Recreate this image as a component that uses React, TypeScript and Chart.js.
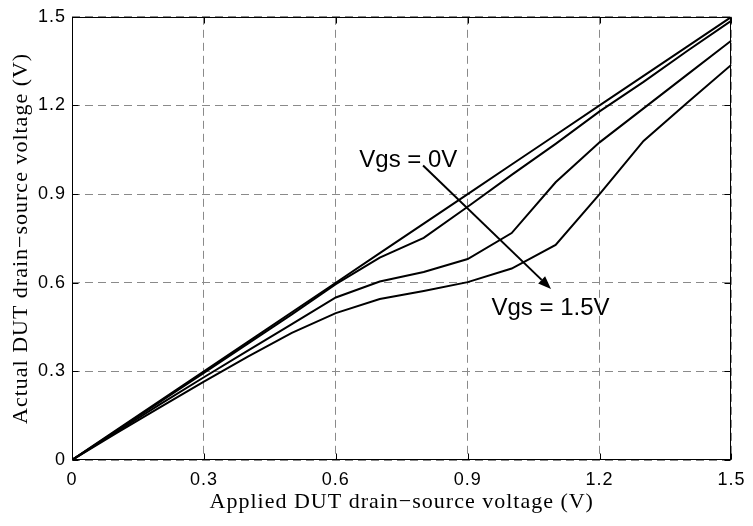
import React, { useEffect, useRef } from 'react';
import { Chart, registerables } from 'chart.js';

Chart.register(...registerables);

// Applied DUT drain-source voltage (V)
const appliedVoltage = [0, 0.1, 0.2, 0.3, 0.4, 0.5, 0.6, 0.7, 0.8, 0.9, 1.0, 1.1, 1.2, 1.3, 1.4, 1.5];

// Actual DUT drain-source voltage (V), one series per gate-source voltage
const vgs0V = [0, 0.1, 0.2, 0.3, 0.4, 0.5, 0.6, 0.7, 0.8, 0.9, 1.0, 1.1, 1.2, 1.3, 1.4, 1.5];
const vgs05V = [0, 0.098, 0.197, 0.295, 0.394, 0.493, 0.595, 0.685, 0.752, 0.857, 0.965, 1.07, 1.18, 1.28, 1.385, 1.487];
const vgs10V = [0, 0.094, 0.188, 0.28, 0.37, 0.46, 0.55, 0.604, 0.636, 0.68, 0.768, 0.94, 1.075, 1.19, 1.305, 1.42];
const vgs15V = [0, 0.09, 0.178, 0.265, 0.35, 0.43, 0.497, 0.545, 0.572, 0.602, 0.648, 0.728, 0.9, 1.08, 1.21, 1.338];

const seriesNames = ['Vgs = 0V', 'Vgs = 0.5V', 'Vgs = 1.0V', 'Vgs = 1.5V'];
const seriesValues = [vgs0V, vgs05V, vgs10V, vgs15V];

const tickValues = [0, 0.3, 0.6, 0.9, 1.2, 1.5];
const tickLabels = ['0', '0.3', '0.6', '0.9', '1.2', '1.5'];

const xTitle = 'Applied DUT drain\u2212source voltage (V)';
const yTitle = 'Actual DUT drain\u2212source voltage (V)';

// annotation anchors in data coordinates
const topLabel = { text: 'Vgs = 0V', x: 0.6535, y: 0.991 };
const bottomLabel = { text: 'Vgs = 1.5V', x: 0.954, y: 0.49 };
const arrowStart = { x: 0.7985, y: 0.9966 };
const arrowEnd = { x: 1.0895, y: 0.579 };

const spacingPlugin = {
  id: 'spacing',
  beforeDraw(chart: any) {
    try {
      (chart.ctx as any).letterSpacing = '1px';
    } catch (e) {
      /* ignore */
    }
  },
};

const overlayPlugin = {
  id: 'overlay',
  afterDatasetsDraw(chart: any) {
    const { ctx, chartArea: a, scales } = chart;
    const xs = scales.x;
    const ys = scales.y;
    ctx.save();
    // box
    ctx.strokeStyle = '#000';
    ctx.lineWidth = 1;
    ctx.setLineDash([]);
    const L = Math.round(a.left) + 0.5;
    const R = Math.round(a.right) - 0.5;
    const T = Math.round(a.top) + 0.5;
    const B = Math.round(a.bottom) - 0.5;
    ctx.strokeRect(L, T, R - L, B - T);
    // inward tick marks on all sides
    ctx.beginPath();
    tickValues.forEach((v) => {
      const px = Math.round(xs.getPixelForValue(v)) + 0.5;
      ctx.moveTo(px, B);
      ctx.lineTo(px, B - 6);
      ctx.moveTo(px, T);
      ctx.lineTo(px, T + 6);
      const py = Math.round(ys.getPixelForValue(v)) + 0.5;
      ctx.moveTo(L, py);
      ctx.lineTo(L + 6, py);
      ctx.moveTo(R, py);
      ctx.lineTo(R - 6, py);
    });
    ctx.stroke();

    // arrow
    const x1 = xs.getPixelForValue(arrowStart.x);
    const y1 = ys.getPixelForValue(arrowStart.y);
    const x2 = xs.getPixelForValue(arrowEnd.x);
    const y2 = ys.getPixelForValue(arrowEnd.y);
    const ang = Math.atan2(y2 - y1, x2 - x1);
    const headLen = 13;
    const headHalf = 5;
    const bx = x2 - headLen * Math.cos(ang);
    const by = y2 - headLen * Math.sin(ang);
    ctx.lineWidth = 2;
    ctx.beginPath();
    ctx.moveTo(x1, y1);
    ctx.lineTo(bx, by);
    ctx.stroke();
    ctx.fillStyle = '#000';
    ctx.beginPath();
    ctx.moveTo(x2, y2);
    ctx.lineTo(bx + headHalf * Math.sin(ang), by - headHalf * Math.cos(ang));
    ctx.lineTo(bx - headHalf * Math.sin(ang), by + headHalf * Math.cos(ang));
    ctx.closePath();
    ctx.fill();

    // labels
    try {
      ctx.letterSpacing = '0px';
    } catch (e) {
      /* ignore */
    }
    ctx.font = '24px "Liberation Sans", Arial, sans-serif';
    ctx.textAlign = 'left';
    ctx.textBaseline = 'alphabetic';
    ctx.fillStyle = '#000';
    [topLabel, bottomLabel].forEach((lb) => {
      ctx.fillText(lb.text, xs.getPixelForValue(lb.x), ys.getPixelForValue(lb.y));
    });
    ctx.restore();
  },
};

export default function App() {
  const canvasRef = useRef<HTMLCanvasElement | null>(null);

  useEffect(() => {
    const canvas = canvasRef.current;
    if (!canvas) return;
    const tickFont = { family: '"Liberation Sans", Arial, sans-serif', size: 18 };
    const titleFont = { family: '"Liberation Serif", "Times New Roman", serif', size: 22 };
    const gridColor = '#8a8a8a';
    const chart = new Chart(canvas, {
      type: 'line',
      data: {
        datasets: seriesValues.map((vals, i) => ({
          label: seriesNames[i],
          data: appliedVoltage.map((x, j) => ({ x, y: vals[j] })),
          borderColor: '#000',
          backgroundColor: '#000',
          borderWidth: 2,
          pointRadius: 0,
          tension: 0,
          fill: false,
        })),
      },
      options: {
        responsive: false,
        animation: false,
        devicePixelRatio: 1,
        layout: { padding: { top: 11, right: 16, left: 0, bottom: 0 } },
        plugins: {
          legend: { display: false },
          tooltip: { enabled: false },
        },
        scales: {
          x: {
            type: 'linear',
            min: 0,
            max: 1.5,
            afterBuildTicks: (ax: any) => {
              ax.ticks = tickValues.map((v) => ({ value: v }));
            },
            afterFit: (ax: any) => {
              ax.height = 66;
            },
            grid: { color: gridColor, lineWidth: 1, drawTicks: false },
            border: { display: false, dash: [8, 5] },
            ticks: {
              color: '#000',
              font: tickFont,
              padding: 9,
              maxRotation: 0,
              autoSkip: false,
              callback: (_v: any, i: number) => tickLabels[i],
            },
            title: {
              display: true,
              text: xTitle,
              color: '#000',
              font: titleFont,
              padding: { top: 0, bottom: 11 },
            },
          },
          y: {
            type: 'linear',
            min: 0,
            max: 1.5,
            afterBuildTicks: (ax: any) => {
              ax.ticks = tickValues.map((v) => ({ value: v }));
            },
            afterFit: (ax: any) => {
              ax.width = 72;
            },
            grid: { color: gridColor, lineWidth: 1, drawTicks: false },
            border: { display: false, dash: [8, 5] },
            ticks: {
              color: '#000',
              font: tickFont,
              padding: 6,
              autoSkip: false,
              callback: (_v: any, i: number) => tickLabels[i],
            },
            title: {
              display: true,
              text: yTitle,
              color: '#000',
              font: titleFont,
              padding: { top: 8, bottom: 0 },
            },
          },
        },
      },
      plugins: [spacingPlugin, overlayPlugin],
    } as any);
    return () => chart.destroy();
  }, []);

  return (
    <div style={{ position: 'absolute', left: 0, top: 0, width: 753, height: 526, background: '#fff' }}>
      <canvas ref={canvasRef} width={753} height={526} style={{ display: 'block', width: 753, height: 526 }} />
    </div>
  );
}
